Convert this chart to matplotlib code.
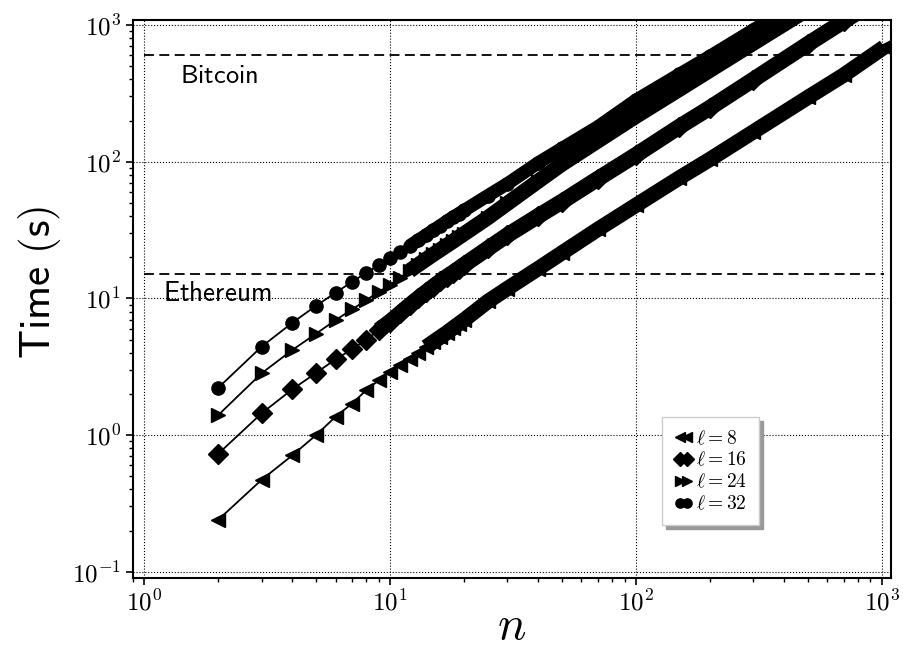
import matplotlib
matplotlib.use('Agg')
import matplotlib.pyplot as plt
from matplotlib.ticker import FuncFormatter, LogLocator
import numpy as np

plt.rcParams['mathtext.fontset'] = 'cm'

# number of parties n (every n up to 20, then sampled along the band)
n_vals = [2, 3, 4, 5, 6, 7, 8, 9, 10, 11, 12, 13, 14, 15, 16, 17, 18, 19, 20,
          25, 30, 40, 50, 70, 100, 150, 200, 300, 500, 700, 1024]

# time in seconds per key length
t_l8 = [0.24, 0.47, 0.71, 1.0, 1.36, 1.70, 2.13, 2.52, 2.90, 3.25, 3.62,
        4.0, 4.4, 4.8, 5.2, 5.6, 6.05, 6.5, 6.95, 9.5, 11.8, 16.5, 21.5,
        32, 48, 76, 104, 165, 295, 430, 690]
t_l16 = [0.73, 1.44, 2.16, 2.85, 3.58, 4.24, 5.0, 5.86, 6.75, 7.8, 8.9,
         10.0, 11.1, 12.2, 13.3, 14.4, 15.4, 16.5, 17.6, 23.2, 29, 40, 51,
         75, 112, 180, 248, 398, 725, 1065, 1650]
t_l24 = [1.40, 2.83, 4.19, 5.52, 6.93, 8.3, 9.7, 11.2, 12.5, 14.2, 15.9,
         17.6, 19.3, 21.0, 22.7, 24.4, 26.1, 27.9, 29.7, 39, 49.5, 72, 96,
         142, 215, 338, 467, 735, 1300, 1900, 2900]
t_l32 = [2.22, 4.43, 6.63, 8.83, 11.0, 13.2, 15.4, 17.5, 19.7, 22.0, 24.2,
         26.6, 29.0, 31.5, 34.0, 36.6, 39.2, 41.6, 44.0, 56.5, 69, 98, 125,
         180, 282, 435, 590, 920, 1600, 2300, 3400]

# (values, marker, label, n where the markers merge into a band, band width)
series = [(t_l8, '<', r'$\ell=8$', 14, 11),
          (t_l16, 'D', r'$\ell=16$', 9, 11.5),
          (t_l24, '>', r'$\ell=24$', 12, 11),
          (t_l32, 'o', r'$\ell=32$', 12, 9.5)]

bitcoin = 600
ethereum = 15

fig = plt.figure(figsize=(9.04, 6.65), dpi=100)
ax = fig.add_axes([0.1468, 0.1313, 0.8385, 0.8386])

n = np.array(n_vals)
for t, m, lab, start, bw in series:
    t = np.array(t)
    ax.plot(n, t, color='black', lw=1.3, marker=m,
            markersize=9.5 if m == 'o' else 10.5, label=lab, zorder=3)
    # overlapping markers at large n merge into a solid band
    tail = n >= start
    ax.plot(n[tail], t[tail], color='black', lw=bw, solid_capstyle='butt',
            solid_joinstyle='round', zorder=3)

ax.plot([1, 1024], [bitcoin, bitcoin], color='black', ls=(0, (5.5, 3)),
        lw=1.3, zorder=2)
ax.plot([1, 1024], [ethereum, ethereum], color='black', ls=(0, (5.5, 3)),
        lw=1.3, zorder=2)
ax.text(1.4, 530, r'$\mathsf{Bitcoin}$', fontsize=19, va='top')
ax.text(1.19, 13.5, r'$\mathsf{Ethereum}$', fontsize=19.5, va='top')

ax.set_xscale('log')
ax.set_yscale('log')
ax.set_xlim(0.897, 1088)
ax.set_ylim(0.0904, 1088)

fmt = FuncFormatter(lambda v, p: r'$10^{%d}$' % round(np.log10(v)))
ax.xaxis.set_major_formatter(fmt)
ax.yaxis.set_major_formatter(fmt)
ax.xaxis.set_major_locator(LogLocator(base=10, numticks=10))
ax.yaxis.set_major_locator(LogLocator(base=10, numticks=10))
ax.tick_params(labelsize=18, width=1.2, length=5)
ax.tick_params(which='minor', width=1.0, length=3)
for s in ax.spines.values():
    s.set_linewidth(1.5)

ax.grid(True, which='major', linestyle=':', color='black', lw=0.8)

ax.set_xlabel(r'$n$', fontsize=34, labelpad=-8)
ax.set_ylabel(r'$\mathsf{Time\ (s)}$', fontsize=31)
ax.yaxis.set_label_coords(-0.092, 0.53)

leg = ax.legend(loc='center', bbox_to_anchor=(0.762, 0.191), fontsize=14,
                numpoints=2, markerscale=0.7, handlelength=1.0,
                handletextpad=0.15, labelspacing=0.15, borderpad=0.6,
                fancybox=False, framealpha=1, edgecolor='0.8',
                shadow={'ox': 3, 'oy': -3, 'color': '0.6', 'alpha': 1})

fig.savefig('out.png', dpi=100)
